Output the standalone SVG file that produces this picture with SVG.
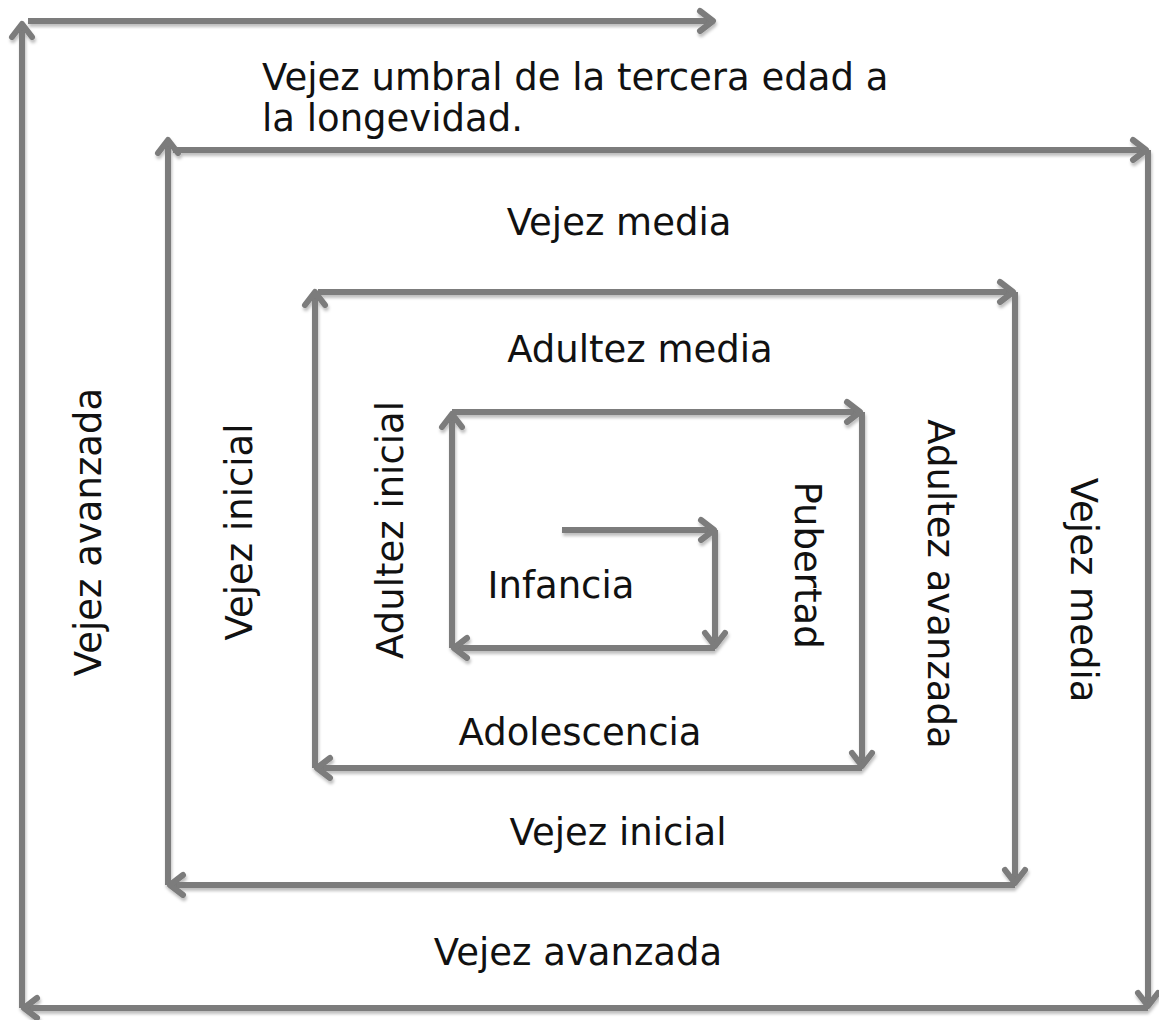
<svg xmlns="http://www.w3.org/2000/svg" width="1159" height="1020" viewBox="0 0 1159 1020">
<style>
.c line{stroke:#7b7b7b;stroke-width:6;fill:none;marker-end:url(#ah)}
text{font-family:"DejaVu Sans","Liberation Sans",Arial,sans-serif;font-size:37px;fill:#111}
</style>
<defs>
<filter id="sh" filterUnits="userSpaceOnUse" x="0" y="0" width="1159" height="1020"><feDropShadow dx="1" dy="3" stdDeviation="1.5" flood-color="#000" flood-opacity="0.25"/></filter>
<marker id="ah" markerUnits="userSpaceOnUse" markerWidth="30" markerHeight="30" viewBox="-20 -15 30 30" refX="0" refY="0" orient="auto" overflow="visible">
<path d="M-13,-10 L0,0 L-13,10" fill="none" stroke="#7b7b7b" stroke-width="6" stroke-linecap="round" stroke-linejoin="round"/>
</marker>
</defs>
<rect width="1159" height="1020" fill="#fff"/>
<g class="c" id="connectors" filter="url(#sh)">
<line x1="562" y1="530" x2="714" y2="530"/>
<line x1="715" y1="530" x2="715" y2="646"/>
<line x1="715" y1="648" x2="454" y2="648"/>
<line x1="452" y1="648" x2="452" y2="414"/>
<line x1="452" y1="412" x2="860" y2="412"/>
<line x1="862" y1="412" x2="862" y2="766"/>
<line x1="862" y1="768" x2="317" y2="768"/>
<line x1="315" y1="768" x2="315" y2="292"/>
<line x1="318" y1="292" x2="1013" y2="292"/>
<line x1="1015" y1="292" x2="1015" y2="883"/>
<line x1="1015" y1="885" x2="170" y2="885"/>
<line x1="168" y1="885" x2="168" y2="140"/>
<line x1="173" y1="150" x2="1146" y2="150"/>
<line x1="1148" y1="150" x2="1148" y2="1006"/>
<line x1="1148" y1="1008" x2="24" y2="1008"/>
<line x1="22" y1="1008" x2="22" y2="24"/>
<line x1="28" y1="21" x2="713" y2="21"/>
</g>
<g id="n-vejez-umbral"><text x="262" y="90">Vejez umbral de la tercera edad a</text><text x="262" y="131">la longevidad.</text></g>
<g id="n-vejez-media-top"><text x="619" y="235" text-anchor="middle">Vejez media</text></g>
<g id="n-adultez-media"><text x="640" y="362" text-anchor="middle">Adultez media</text></g>
<g id="n-infancia"><text x="561" y="598" text-anchor="middle">Infancia</text></g>
<g id="n-adolescencia"><text x="580" y="745" text-anchor="middle">Adolescencia</text></g>
<g id="n-vejez-inicial-bottom"><text x="618" y="845" text-anchor="middle">Vejez inicial</text></g>
<g id="n-vejez-avanzada-bottom"><text x="578" y="965" text-anchor="middle">Vejez avanzada</text></g>
<g id="n-vejez-avanzada-left"><text transform="translate(101,532) rotate(-90)" text-anchor="middle">Vejez avanzada</text></g>
<g id="n-vejez-inicial-left"><text transform="translate(252,532) rotate(-90)" text-anchor="middle">Vejez inicial</text></g>
<g id="n-adultez-inicial"><text transform="translate(403,530) rotate(-90)" text-anchor="middle">Adultez inicial</text></g>
<g id="n-pubertad"><text transform="translate(795,565) rotate(90)" text-anchor="middle">Pubertad</text></g>
<g id="n-adultez-avanzada"><text transform="translate(928,584) rotate(90)" text-anchor="middle">Adultez avanzada</text></g>
<g id="n-vejez-media-right"><text transform="translate(1071,590) rotate(90)" text-anchor="middle">Vejez media</text></g>
</svg>
